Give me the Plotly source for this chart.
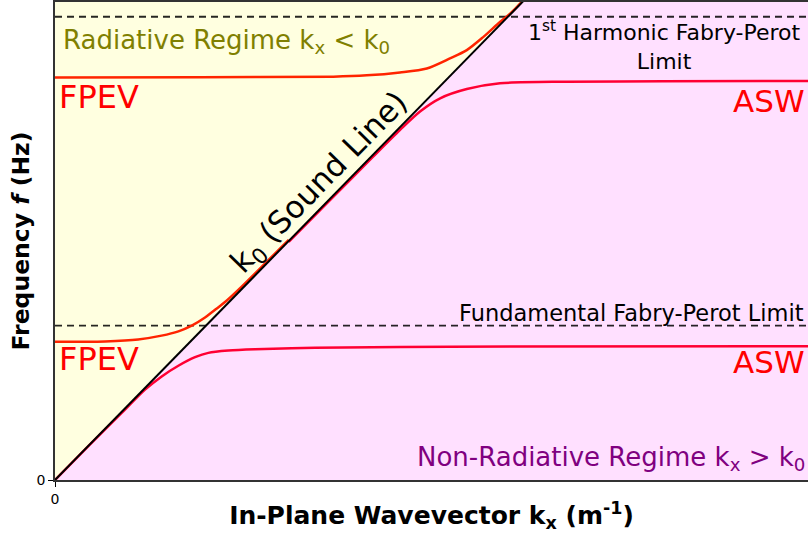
import plotly.graph_objects as go

# Axis extents (in-plane wavevector, frequency), normalised units
kx_max = 1.611
f_max = 1.0

# Fabry-Perot limits (fundamental and 1st harmonic)
fp_fundamental = 0.323
fp_harmonic = 0.969

# Sound line k0: f = kx
sound_kx = [0.0, 1.05]
sound_f = [0.0, 1.05]

# Lower acoustic surface wave (ASW) branch
asw1_kx = [0.0, 0.0713, 0.1427, 0.1926, 0.2283, 0.2639, 0.2996, 0.328, 0.3709, 0.428, 0.5564, 0.845, 1.611]
asw1_f = [0.0, 0.0708, 0.1402, 0.189, 0.2167, 0.239, 0.2569, 0.266, 0.2708, 0.2735, 0.2765, 0.279, 0.280]

# Upper ASW branch
asw2_kx = [0.50, 0.60, 0.68, 0.7383, 0.781, 0.824, 0.881, 0.952, 1.095, 1.30, 1.611]
asw2_f = [0.498, 0.597, 0.676, 0.7327, 0.771, 0.7986, 0.818, 0.830, 0.8333, 0.834, 0.8348]

# Lower Fabry-Perot evanescent (FPEV) branch
fpev1_kx = [0.0, 0.107, 0.178, 0.228, 0.264, 0.2925, 0.321, 0.349, 0.367, 0.40, 0.45, 0.50]
fpev1_f = [0.289, 0.290, 0.294, 0.302, 0.311, 0.323, 0.340, 0.361, 0.375, 0.405, 0.4535, 0.5025]

# Upper FPEV branch
fpev2_kx = [0.0, 0.310, 0.5955, 0.667, 0.738, 0.7954, 0.845, 0.881, 0.9166, 0.952, 0.9737, 0.995, 1.01]
fpev2_f = [0.842, 0.8427, 0.8438, 0.8465, 0.8527, 0.861, 0.882, 0.8994, 0.927, 0.9583, 0.9756, 0.9965, 1.015]

FONT = "DejaVu Sans"
FPEV_COLOR = "#ff2400"
ASW_COLOR = "#ff0033"

fig = go.Figure()

# Radiative region (left of the sound line)
fig.add_trace(go.Scatter(
    x=[0, f_max, 0, 0], y=[0, f_max, f_max, 0], mode="lines",
    fill="toself", fillcolor="#ffffe0", line=dict(width=0),
    hoverinfo="skip", showlegend=False))
# Non-radiative region (right of the sound line)
fig.add_trace(go.Scatter(
    x=[0, kx_max, kx_max, f_max, 0], y=[0, 0, f_max, f_max, 0], mode="lines",
    fill="toself", fillcolor="#ffe0ff", line=dict(width=0),
    hoverinfo="skip", showlegend=False))

# Fabry-Perot limits
for fp in (fp_fundamental, fp_harmonic):
    fig.add_trace(go.Scatter(
        x=[0, kx_max], y=[fp, fp], mode="lines",
        line=dict(color="rgba(0,0,0,0.85)", width=1.9, dash="7px,5px"),
        hoverinfo="skip", showlegend=False))

# Dispersion branches
for xs, ys, col in ((asw1_kx, asw1_f, ASW_COLOR), (asw2_kx, asw2_f, ASW_COLOR),
                    (fpev1_kx, fpev1_f, FPEV_COLOR), (fpev2_kx, fpev2_f, FPEV_COLOR)):
    fig.add_trace(go.Scatter(
        x=xs, y=ys, mode="lines",
        line=dict(color=col, width=2.5, shape="spline", smoothing=0.8),
        hoverinfo="skip", showlegend=False))

# Sound line
fig.add_trace(go.Scatter(
    x=sound_kx, y=sound_f, mode="lines", line=dict(color="black", width=2),
    hoverinfo="skip", showlegend=False))

ann = [
    dict(x=0.013, y=0.917, text="Radiative Regime k<sub>x</sub> &lt; k<sub>0</sub>",
         xanchor="left", yanchor="middle", font=dict(size=26, color="#808000")),
    dict(x=0.004, y=0.802, text="FPEV", xanchor="left", yanchor="middle",
         font=dict(size=32, color="red")),
    dict(x=0.004, y=0.254, text="FPEV", xanchor="left", yanchor="middle",
         font=dict(size=32, color="red")),
    dict(x=1.608, y=0.792, text="ASW", xanchor="right", yanchor="middle",
         font=dict(size=31, color="red")),
    dict(x=1.608, y=0.246, text="ASW", xanchor="right", yanchor="middle",
         font=dict(size=31, color="red")),
    dict(x=1.305, y=0.910, text="1<sup>st</sup> Harmonic Fabry-Perot<br>Limit",
         xanchor="center", yanchor="middle", align="center",
         font=dict(size=22, color="black")),
    dict(x=1.607, y=0.350, text="Fundamental Fabry-Perot Limit",
         xanchor="right", yanchor="middle", font=dict(size=22.5, color="black")),
    dict(x=1.608, y=0.046, text="Non-Radiative Regime k<sub>x</sub> &gt; k<sub>0</sub>",
         xanchor="right", yanchor="middle", font=dict(size=26, color="#800080")),
    dict(x=0.567, y=0.621, text="k<sub>0</sub> (Sound Line)", textangle=-45.8,
         xanchor="center", yanchor="middle", font=dict(size=31, color="black")),
]
for a in ann:
    a.update(xref="x", yref="y", showarrow=False)
    a["font"]["family"] = FONT

fig.update_layout(
    width=808, height=534,
    margin=dict(l=55, r=0, t=0, b=54),
    plot_bgcolor="white", paper_bgcolor="white",
    font=dict(family=FONT, color="black"),
    annotations=ann,
    xaxis=dict(
        range=[0, kx_max], showgrid=False, zeroline=False,
        showline=True, linecolor="#333333", linewidth=1.6, mirror=True,
        ticks="outside", ticklen=5, tickcolor="black",
        tickvals=[0], ticktext=["0"], tickfont=dict(size=14, family=FONT),
        title=dict(text="<b>In-Plane Wavevector k<sub>x</sub> (m<sup>-1</sup>)</b>",
                   font=dict(size=25, family=FONT), standoff=1),
    ),
    yaxis=dict(
        range=[0, f_max], showgrid=False, zeroline=False,
        showline=True, linecolor="#333333", linewidth=1.6,
        ticks="outside", ticklen=5, tickcolor="black",
        tickvals=[0], ticktext=["0"], tickfont=dict(size=14, family=FONT),
        title=dict(text="<b>Frequency <i>f</i> (Hz)</b>",
                   font=dict(size=23.5, family=FONT), standoff=0),
    ),
)

fig.write_html("out.html")
